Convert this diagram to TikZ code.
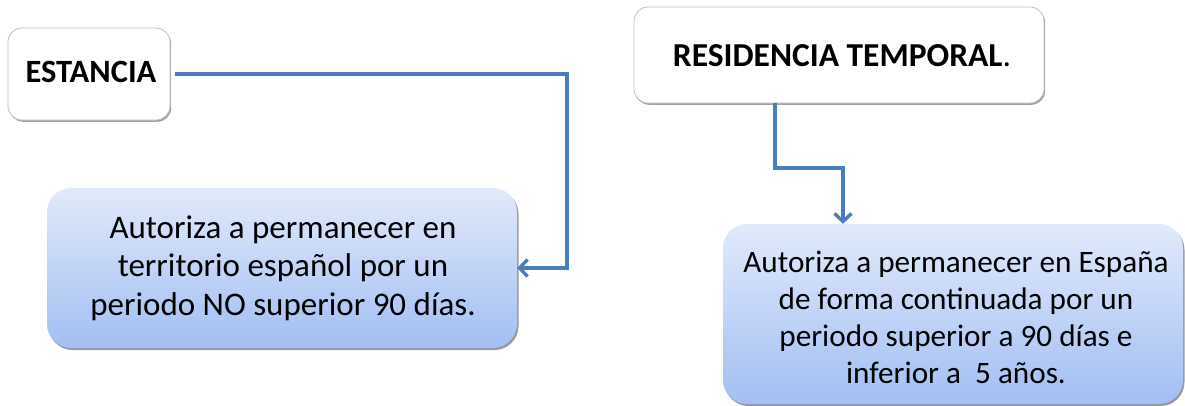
\documentclass[tikz,border=0pt]{standalone}
\usepackage{fontspec}
\setmainfont{Carlito}
\usetikzlibrary{arrows.meta,shadows}
\definecolor{lineblue}{HTML}{4A7EBB}
\definecolor{boxtop}{HTML}{E1EAFB}
\definecolor{boxbot}{HTML}{A2BEF3}
\definecolor{edgegray}{HTML}{BFBFBF}
\tikzset{
  titlebox/.style={draw=edgegray, line width=0.8pt, fill=white, rounded corners=14pt,
    drop shadow={shadow xshift=1.2pt, shadow yshift=-1.8pt, fill=black!45, opacity=0.8},
    inner sep=0pt},
  bluebox/.style={rounded corners=24pt, top color=boxtop, bottom color=boxbot, draw=none,
    drop shadow={shadow xshift=1.5pt, shadow yshift=-2pt, fill=black!50, opacity=0.8},
    align=center, inner sep=0pt},
  conn/.style={draw=lineblue, line width=3.4pt, -{Straight Barb[length=8pt,width=17pt]}},
}
\begin{document}
\begin{tikzpicture}[x=1pt,y=-1pt]
\useasboundingbox (0,0) rectangle (1185,405);
\node[titlebox, minimum width=162pt, minimum height=92pt] (est) at (89,74) {};
\node[font=\fontsize{32.5}{39}\selectfont\bfseries] (estt) at (91,72) {ESTANCIA};
\node[bluebox, minimum width=470pt, minimum height=160pt] (lb) at (282,268) {};
\node[align=center, font=\fontsize{33}{38.5}\selectfont] (lbt) at (283,268)
  {Autoriza a permanecer en\\territorio español por un\\periodo NO superior 90 días.};
\node[titlebox, minimum width=410pt, minimum height=96pt] (res) at (839,55) {};
\node[font=\fontsize{33.5}{40}\selectfont] (rest) at (842,56) {\textbf{RESIDENCIA TEMPORAL}.};
\node[bluebox, minimum width=460pt, minimum height=180pt] (rb) at (953,314) {};
\node[align=center, font=\fontsize{31.2}{37}\selectfont] (rbt) at (956,317)
  {Autoriza a permanecer en España\\de forma continuada por un\\periodo superior a 90 días e\\inferior a \ 5 años.};
\coordinate (c1) at (567,268);
\coordinate (k1) at (775,168);
\coordinate (k2) at (843,168);
\draw[conn, shorten <=5pt] (est.east) -| (c1) -- (lb.east);
\draw[conn] (res.south -| k1) -- (k1) -- (k2) -- (rb.north -| k2);
\end{tikzpicture}
\end{document}
